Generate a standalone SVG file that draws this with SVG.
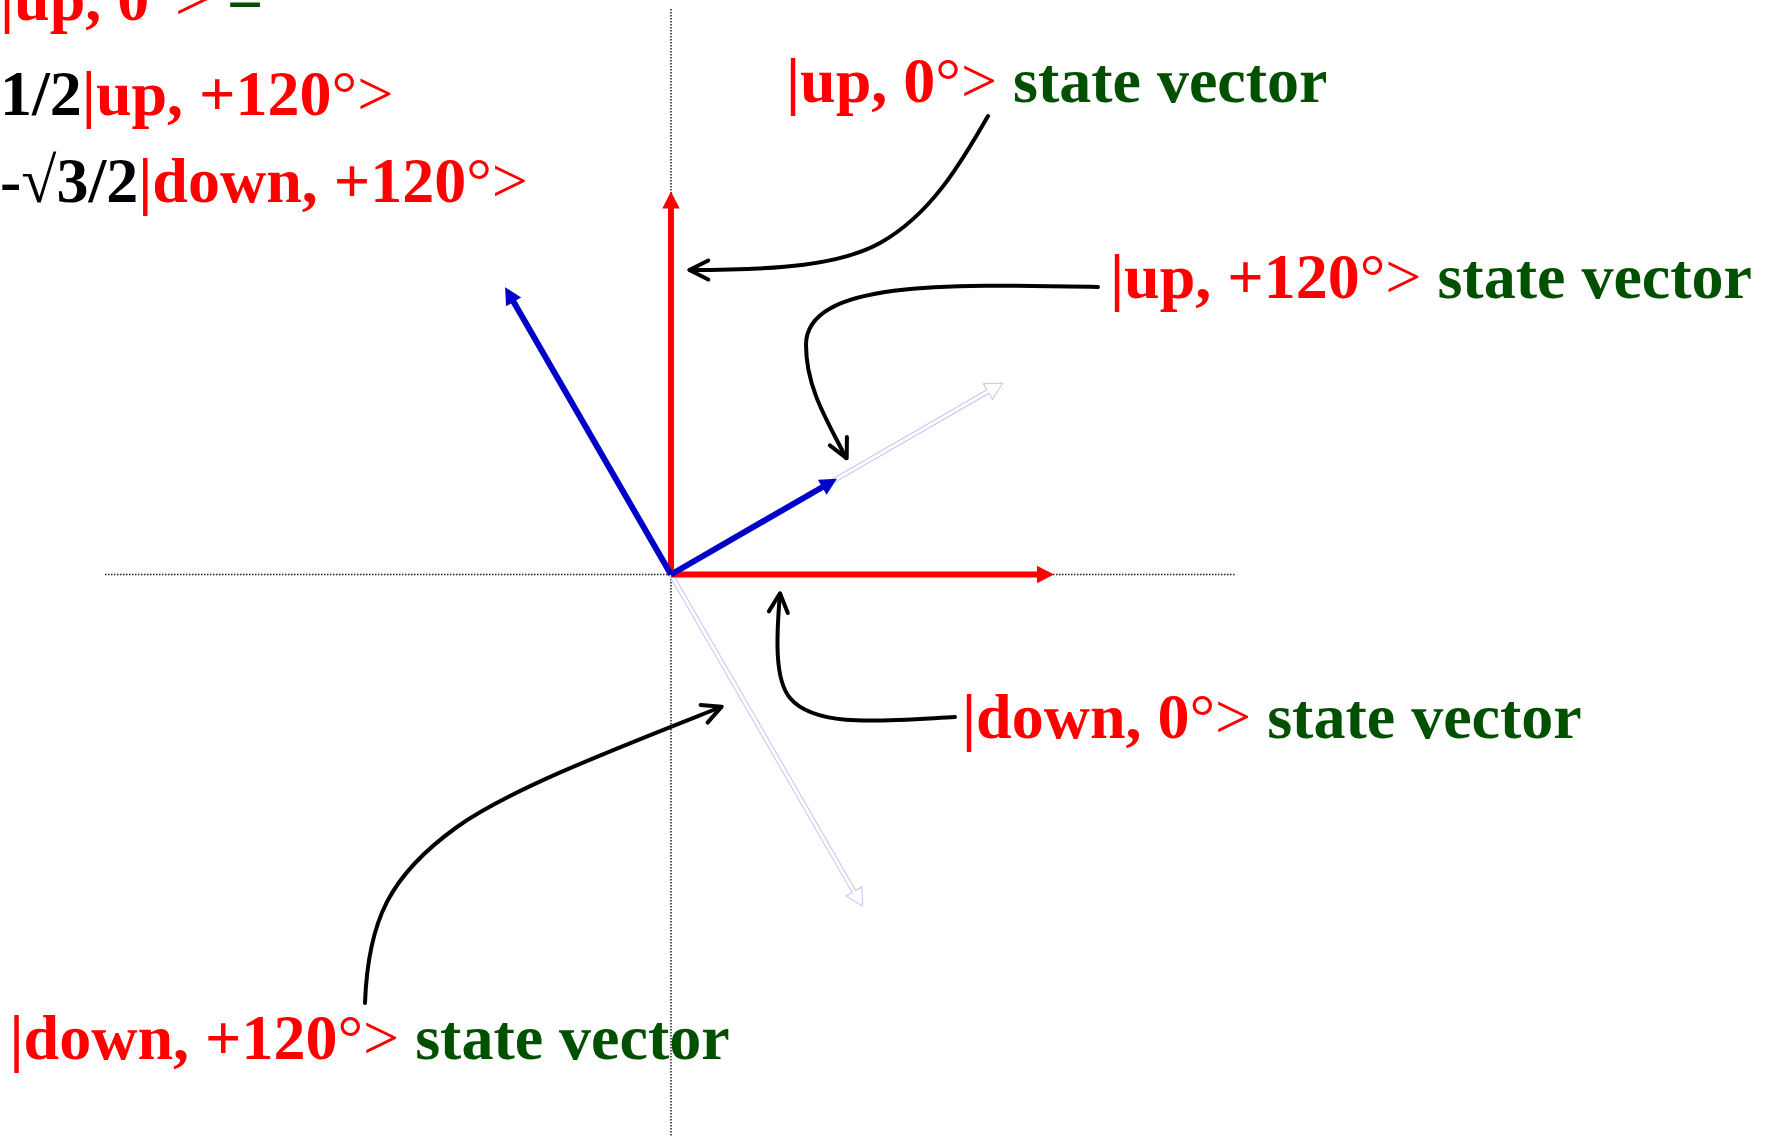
<svg xmlns="http://www.w3.org/2000/svg" xmlns:xlink="http://www.w3.org/1999/xlink" width="1774" height="1136" viewBox="0 0 1774 1136">
<style>
.t{font-family:"Liberation Serif","Times New Roman",serif;font-size:64px;font-weight:bold}
.r{fill:#FF0000}
.g{fill:#005000}
.k{fill:#000000}
.n{font-weight:normal}
.axis{stroke:#222;stroke-width:1.5;stroke-dasharray:1.5 1.5;fill:none}
.red{stroke:#FF0000;stroke-width:6;fill:none}
.blue{stroke:#0000C8;stroke-width:6;fill:none}
.faint{stroke:#C4C4F4;stroke-width:1;fill:#FFFFFF}
.call{stroke:#000;stroke-width:4;fill:none;stroke-linecap:round;stroke-linejoin:round}
</style>
<defs>
<path id="hd" d="M0,0 L-17,-8.7 L-17,8.7 Z"/>
<path id="faintArrow" d="M0,-2 L366,-2 L366,-9 L383,0 L366,9 L366,2 L0,2 Z"/>
<path id="open" d="M-19,-9.5 L0,0 L-19,9.5"/>
</defs>
<rect width="1774" height="1136" fill="#FFFFFF"/>

<g id="equation">
<text class="t" x="0" y="20"><tspan class="r">|up, 0</tspan><tspan class="r n">°&gt; </tspan><tspan class="g">=</tspan></text>
<text class="t" x="0" y="115"><tspan class="k">1/2</tspan><tspan class="r">|up, +120</tspan><tspan class="r n">°&gt;</tspan></text>
<text class="t" x="0" y="202"><tspan class="k">-</tspan><tspan class="k n">√</tspan><tspan class="k">3/2</tspan><tspan class="r">|down, +120</tspan><tspan class="r n">°&gt;</tspan></text>
</g>

<g id="label-up0">
<text class="t" x="786" y="102"><tspan class="r">|up, 0</tspan><tspan class="r n">°&gt; </tspan><tspan class="g">state vector</tspan></text>
</g>
<g id="label-up120">
<text class="t" x="1110" y="298"><tspan class="r">|up, +120</tspan><tspan class="r n">°&gt; </tspan><tspan class="g">state vector</tspan></text>
</g>
<g id="label-down0">
<text class="t" x="962" y="738"><tspan class="r">|down, 0</tspan><tspan class="r n">°&gt; </tspan><tspan class="g">state vector</tspan></text>
</g>
<g id="label-down120">
<text class="t" x="9.5" y="1059"><tspan class="r">|down, +120</tspan><tspan class="r n">°&gt; </tspan><tspan class="g">state vector</tspan></text>
</g>

<g id="axes">
<line class="axis" x1="105" y1="574.5" x2="1236" y2="574.5"/>
<line class="axis" x1="671" y1="9" x2="671" y2="1136"/>
</g>

<g id="vec-up120-basis">
<use xlink:href="#faintArrow" class="faint" transform="translate(671,574.5) rotate(-30)"/>
</g>
<g id="vec-down120-basis">
<use xlink:href="#faintArrow" class="faint" transform="translate(671,574.5) rotate(60)"/>
</g>

<g id="vec-up0">
<line class="red" x1="671" y1="574.5" x2="671" y2="205"/>
<use xlink:href="#hd" fill="#FF0000" transform="translate(671,191.5) rotate(-90)"/>
</g>
<g id="vec-down0">
<line class="red" x1="671" y1="574.5" x2="1040" y2="574.5"/>
<use xlink:href="#hd" fill="#FF0000" transform="translate(1054,574.5)"/>
</g>
<g id="vec-half-up120">
<line class="blue" x1="671" y1="574.5" x2="824.8" y2="485.75"/>
<use xlink:href="#hd" fill="#0000C8" transform="translate(836.9,478.75) rotate(-30)"/>
</g>
<g id="vec-sqrt3-down120">
<line class="blue" x1="671" y1="574.5" x2="512.1" y2="299.3"/>
<use xlink:href="#hd" fill="#0000C8" transform="translate(505.1,287.2) rotate(-120)"/>
</g>

<g id="connectors">
<path class="call" d="M988,116 C960,165 930,215 880,243 C840,265 780,270 690,270"/>
<use xlink:href="#open" class="call" transform="translate(689.3,270) rotate(180)"/>
<path class="call" d="M1098,287 C950,284 806,280 806,345 C806,390 830,425 846,458"/>
<use xlink:href="#open" class="call" transform="translate(846.7,458.3) rotate(64)"/>
<path class="call" d="M955,717 C880,721 815,728 790,698 C775,680 776,640 780,594"/>
<use xlink:href="#open" class="call" transform="translate(780,593.3) rotate(-85)"/>
<path class="call" d="M365,1003 C368,920 390,875 457,827 C510,789 620,747 721,707"/>
<use xlink:href="#open" class="call" transform="translate(721.7,706.7) rotate(-21.7)"/>
</g>
</svg>
